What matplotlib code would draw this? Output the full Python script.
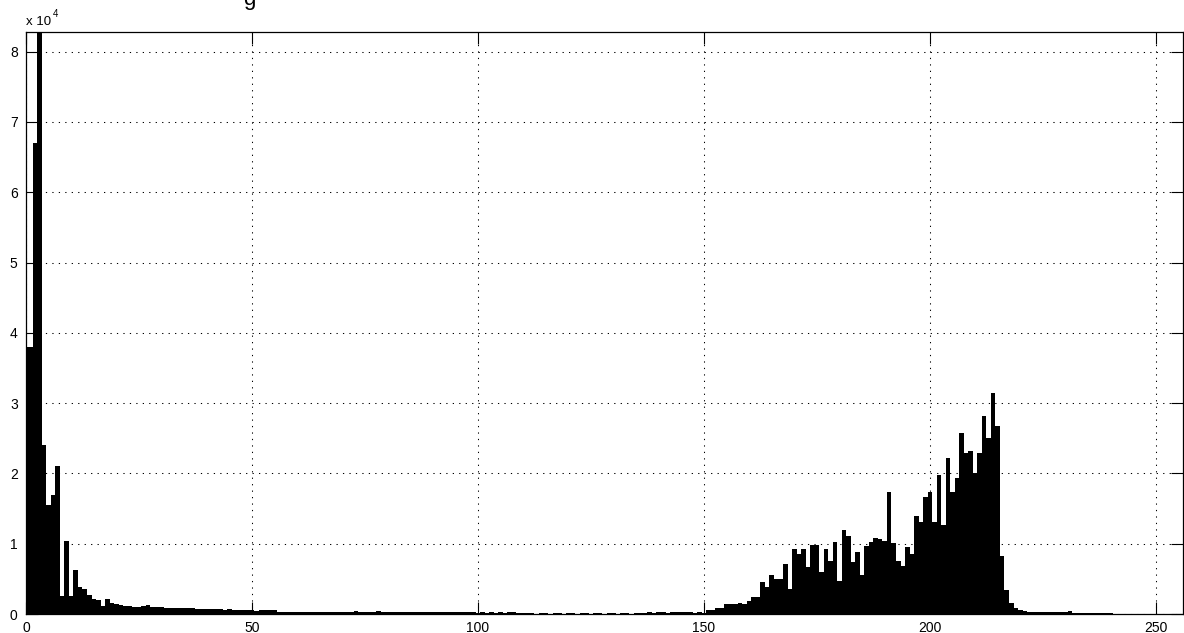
import numpy as np
import matplotlib
matplotlib.use("Agg")
import matplotlib.pyplot as plt
from matplotlib.ticker import FixedLocator, FuncFormatter

plt.rcParams['font.family'] = ['Liberation Sans', 'DejaVu Sans']

# ---------------- data: histogram counts per grey level ----------------
bin_centers = np.arange(256)

counts_0_49 = [
    38000, 38000, 67000, 84000, 24100, 15500, 17000, 21100, 2500, 10400,
    2500, 6300, 3800, 3500, 2700, 2100, 2000, 1200, 2100, 1600,
    1400, 1300, 1200, 1100, 1000, 1000, 1200, 1300, 1000, 950,
    950, 900, 900, 850, 850, 850, 800, 800, 750, 750,
    700, 700, 650, 650, 600, 650, 550, 550, 500, 500,
]

counts_50_149 = [
    500, 400, 500, 550, 550, 550, 350, 350, 350, 300,
    300, 250, 260, 240, 250, 230, 250, 240, 230, 250,
    240, 230, 250, 400, 250, 240, 230, 250, 400, 240,
    230, 250, 240, 220, 230, 240, 230, 220, 240, 230,
    220, 230, 240, 220, 230, 220, 230, 240, 220, 230,
    200, 220, 200, 300, 200, 300, 200, 300, 300, 200,
    150, 80, 80, 70, 80, 80, 70, 80, 80, 70,
    80, 80, 70, 80, 80, 70, 80, 80, 70, 80,
    80, 70, 80, 80, 70, 80, 80, 80, 250, 200,
    250, 250, 200, 300, 250, 250, 300, 250, 200, 250,
]

counts_150_255 = [
    200, 600, 600, 900, 900, 1400, 1400, 1400, 1500, 1400,
    1900, 2400, 2400, 4500, 3800, 5500, 5000, 5000, 7100, 3600,
    9200, 8500, 9300, 6700, 9800, 9800, 6000, 9300, 7600, 10200,
    4700, 12000, 11100, 7400, 8800, 5500, 9700, 10200, 10800, 10600,
    10400, 17300, 10100, 7500, 6900, 9600, 8500, 13900, 13100, 16600,
    17300, 13100, 19800, 12600, 22200, 17300, 19300, 25800, 22900, 23200,
    20000, 22900, 28100, 25100, 31400, 26800, 8200, 3400, 1500, 900,
    600, 450, 350, 300, 300, 300, 300, 250, 250, 250,
    250, 400, 150, 150, 150, 150, 150, 150, 150, 150,
    150, 0, 0, 0, 0, 0, 0, 0, 0, 0,
    0, 0, 0, 0, 0, 0,
]

counts = np.array(counts_0_49 + counts_50_149 + counts_150_255, dtype=float)

x_ticks = [0, 50, 100, 150, 200, 250]
y_ticks = [0, 10000, 20000, 30000, 40000, 50000, 60000, 70000, 80000]

# ---------------- figure ----------------
W, H = 1184, 633
fig = plt.figure(figsize=(W / 100, H / 100), dpi=100)
fig.patch.set_facecolor('white')

left, right, top, bottom = 26, 1183, 32, 614
ax = fig.add_axes([left / W, (H - bottom) / H, (right - left) / W, (bottom - top) / H])

edges = np.append(bin_centers - 0.5, bin_centers[-1] + 0.5)
ax.stairs(counts, edges, fill=True, color='black', linewidth=0)

ax.set_xlim(0, 256)
ax.set_ylim(0, 82800)

ax.xaxis.set_major_locator(FixedLocator(x_ticks))
ax.yaxis.set_major_locator(FixedLocator(y_ticks))
ax.yaxis.set_major_formatter(FuncFormatter(lambda v, p: f"{int(round(v / 1e4))}"))

ax.set_axisbelow(True)
ax.grid(True, color='black', linestyle=(0, (1.2, 5.0)), linewidth=0.75)

for s in ax.spines.values():
    s.set_color('black')
    s.set_linewidth(0.9)

ax.tick_params(axis='both', which='major', direction='in', length=8.5, width=0.8,
               top=True, right=True, labelsize=10, colors='black')
ax.tick_params(axis='x', pad=5)
ax.tick_params(axis='y', pad=6)

# MATLAB-style exponent label
fig.text(26 / W, 1 - 25 / H, "x 10", fontsize=9.5, va='baseline', ha='left')
fig.text(53 / W, 1 - 17 / H, "4", fontsize=7, va='baseline', ha='left')

# clipped title fragment at the very top (cut off in the reference as well)
fig.text(243 / W, 1 - 5.5 / H, "g", fontsize=16, va='baseline', ha='left')

fig.savefig("out.png", dpi=100)
